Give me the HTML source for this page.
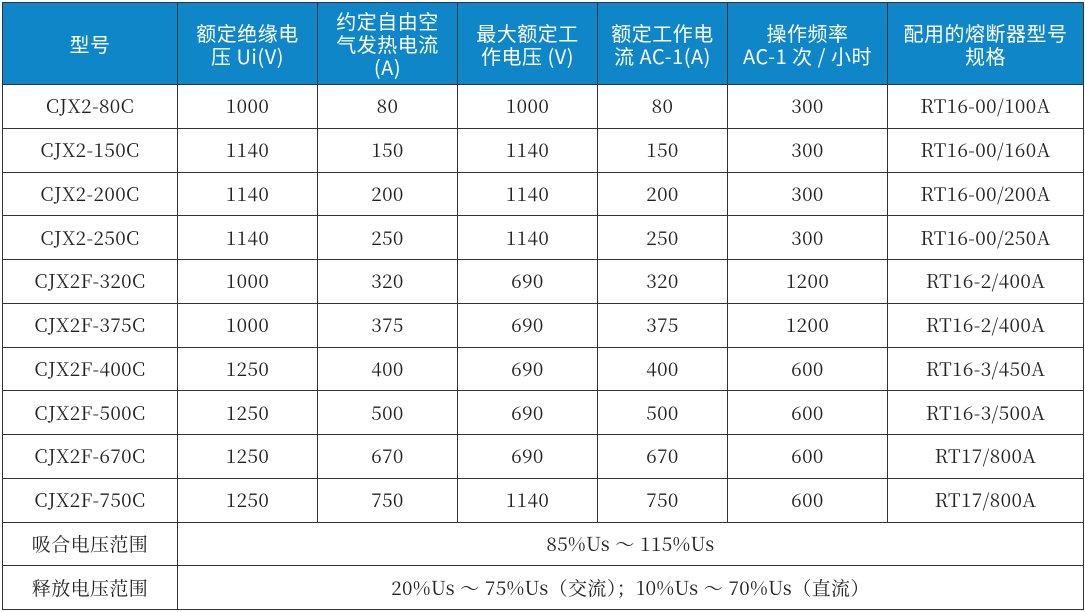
<!DOCTYPE html>
<html><head><meta charset="utf-8"><style>
html,body{margin:0;padding:0;background:#fff;width:1085px;height:612px;overflow:hidden}
table{position:absolute;left:2px;top:2px;border-collapse:collapse;table-layout:fixed;font-family:"Noto Serif CJK SC","Liberation Serif",serif;font-size:19px;letter-spacing:0.4px;color:#222}
td{border:1.5px solid #333;text-align:center;padding:0;line-height:22px;overflow:hidden;white-space:nowrap}
tr{height:43.75px}
tr.h{height:82px}
tr.h td{background:#0f86c8;color:#fff;font-family:"Noto Sans CJK SC",sans-serif;line-height:23px;font-size:20px;letter-spacing:0.5px}
</style></head><body>
<table>
<colgroup><col style="width:175px"><col style="width:140px"><col style="width:140px"><col style="width:140px"><col style="width:130px"><col style="width:160px"><col style="width:196px"></colgroup>
<tr class="h"><td>型号</td><td>额定绝缘电<br>压 Ui(V)</td><td>约定自由空<br>气发热电流<br>(A)</td><td>最大额定工<br>作电压 (V)</td><td>额定工作电<br>流 AC-1(A)</td><td>操作频率<br>AC-1 次 / 小时</td><td>配用的熔断器型号<br>规格</td></tr>
<tr><td>CJX2-80C</td><td>1000</td><td>80</td><td>1000</td><td>80</td><td>300</td><td>RT16-00/100A</td></tr>
<tr><td>CJX2-150C</td><td>1140</td><td>150</td><td>1140</td><td>150</td><td>300</td><td>RT16-00/160A</td></tr>
<tr><td>CJX2-200C</td><td>1140</td><td>200</td><td>1140</td><td>200</td><td>300</td><td>RT16-00/200A</td></tr>
<tr><td>CJX2-250C</td><td>1140</td><td>250</td><td>1140</td><td>250</td><td>300</td><td>RT16-00/250A</td></tr>
<tr><td>CJX2F-320C</td><td>1000</td><td>320</td><td>690</td><td>320</td><td>1200</td><td>RT16-2/400A</td></tr>
<tr><td>CJX2F-375C</td><td>1000</td><td>375</td><td>690</td><td>375</td><td>1200</td><td>RT16-2/400A</td></tr>
<tr><td>CJX2F-400C</td><td>1250</td><td>400</td><td>690</td><td>400</td><td>600</td><td>RT16-3/450A</td></tr>
<tr><td>CJX2F-500C</td><td>1250</td><td>500</td><td>690</td><td>500</td><td>600</td><td>RT16-3/500A</td></tr>
<tr><td>CJX2F-670C</td><td>1250</td><td>670</td><td>690</td><td>670</td><td>600</td><td>RT17/800A</td></tr>
<tr><td>CJX2F-750C</td><td>1250</td><td>750</td><td>1140</td><td>750</td><td>600</td><td>RT17/800A</td></tr>
<tr><td>吸合电压范围</td><td colspan="6">85%Us ～ 115%Us</td></tr>
<tr><td>释放电压范围</td><td colspan="6">20%Us ～ 75%Us（交流）；10%Us ～ 70%Us（直流）</td></tr>
</table>
</body></html>
